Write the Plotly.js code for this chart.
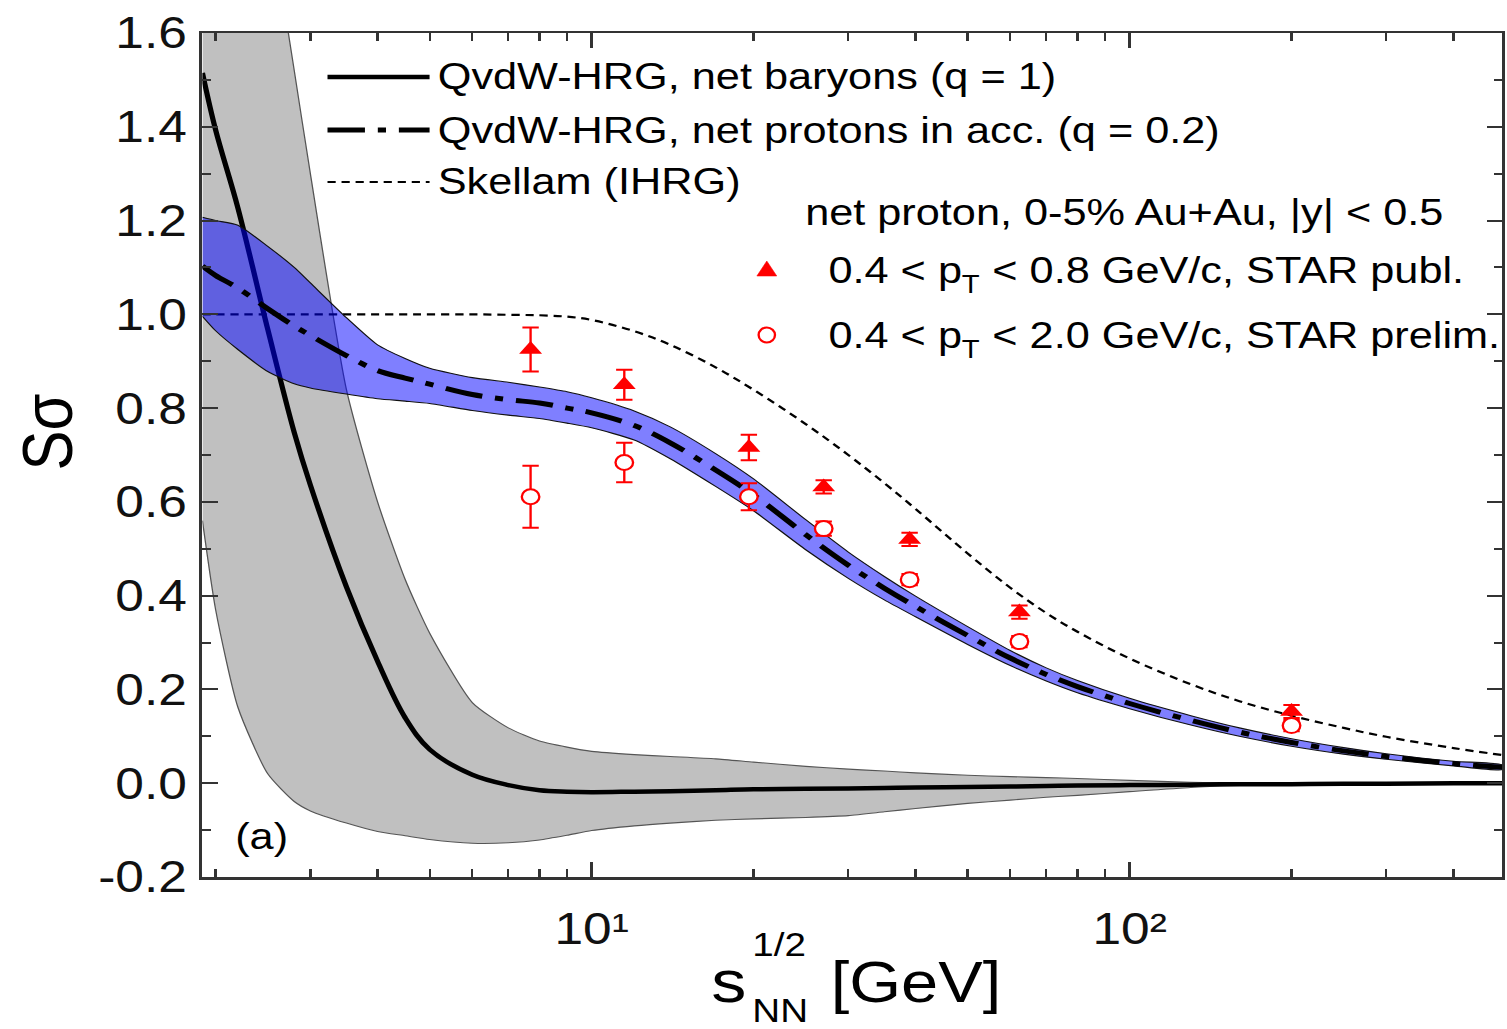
<!DOCTYPE html>
<html>
<head>
<meta charset="utf-8">
<script src="https://cdn.plot.ly/plotly-3.0.1.min.js"></script>
<style>
html,body{margin:0;padding:0;background:#fff;overflow:hidden;}
#wrap{width:1507px;height:1029px;overflow:hidden;}
#plot{width:1288px;height:1029px;transform:scaleX(1.1700311);transform-origin:0 0;}
</style>
</head>
<body>
<div id="wrap"><div id="plot"></div></div>
<script>
// ---------------- data ----------------
const energyGrid = [1.89, 2, 2.2, 2.5, 2.8, 3, 3.5, 4, 4.5, 5, 6, 7, 8, 9, 10, 12, 14, 17, 20, 25, 30, 35, 40, 50, 60, 70, 80, 100, 130, 160, 200, 250, 300, 400, 493];

// QvdW-HRG, net baryons (q = 1): central curve and uncertainty band
const netBaryons = [1.515, 1.393, 1.227, 0.968, 0.748, 0.636, 0.419, 0.26, 0.14, 0.072, 0.018, -0.004, -0.015, -0.018, -0.019, -0.018, -0.017, -0.015, -0.013, -0.012, -0.011, -0.010, -0.009, -0.008, -0.007, -0.006, -0.005, -0.004, -0.003, -0.002, -0.002, -0.001, -0.001, 0.0, 0.0];
const netBaryonsUpper = [2.77, 2.56, 2.29, 1.88, 1.52, 1.30, 0.84, 0.60, 0.435, 0.32, 0.172, 0.118, 0.09, 0.077, 0.068, 0.061, 0.057, 0.052, 0.045, 0.036, 0.030, 0.026, 0.022, 0.017, 0.014, 0.012, 0.010, 0.006, 0.002, 0.0, -0.001, -0.001, -0.001, -0.001, -0.001];
const netBaryonsLower = [0.56, 0.37, 0.162, 0.02, -0.039, -0.059, -0.085, -0.103, -0.112, -0.12, -0.128, -0.127, -0.121, -0.111, -0.101, -0.091, -0.085, -0.079, -0.076, -0.073, -0.069, -0.061, -0.054, -0.043, -0.036, -0.030, -0.026, -0.018, -0.009, -0.005, -0.002, -0.001, 0.0, 0.0, 0.0];

// QvdW-HRG, net protons in acceptance (q = 0.2)
const netProtons = [1.103, 1.083, 1.056, 1.012, 0.975, 0.955, 0.912, 0.88, 0.864, 0.851, 0.829, 0.818, 0.811, 0.80, 0.79, 0.763, 0.726, 0.668, 0.615, 0.53, 0.465, 0.416, 0.377, 0.315, 0.267, 0.232, 0.206, 0.17, 0.134, 0.109, 0.087, 0.069, 0.057, 0.042, 0.034];
const netProtonsUpper = [1.207, 1.20, 1.19, 1.145, 1.10, 1.067, 0.993, 0.935, 0.906, 0.885, 0.865, 0.855, 0.845, 0.835, 0.822, 0.794, 0.76, 0.703, 0.649, 0.562, 0.493, 0.441, 0.399, 0.334, 0.283, 0.246, 0.219, 0.181, 0.144, 0.118, 0.095, 0.076, 0.063, 0.047, 0.039];
const netProtonsLower = [0.996, 0.965, 0.925, 0.878, 0.852, 0.843, 0.83, 0.82, 0.815, 0.81, 0.795, 0.785, 0.778, 0.768, 0.758, 0.732, 0.692, 0.633, 0.581, 0.498, 0.437, 0.391, 0.355, 0.296, 0.251, 0.218, 0.193, 0.159, 0.124, 0.10, 0.079, 0.062, 0.051, 0.037, 0.029];

// Skellam (IHRG)
const skellam = [1.0, 1.0, 1.0, 1.0, 1.0, 1.0, 1.0, 1.0, 1.0, 1.0, 1.0, 0.999, 0.998, 0.995, 0.988, 0.964, 0.935, 0.887, 0.839, 0.766, 0.70, 0.64, 0.585, 0.49, 0.417, 0.363, 0.323, 0.266, 0.211, 0.175, 0.144, 0.118, 0.099, 0.075, 0.06];

// STAR data
const starEnergies = [7.7, 11.5, 19.6, 27, 39, 62.4, 200];
const starPubl = [0.925, 0.85, 0.716, 0.632, 0.52, 0.365, 0.153];
const starPublErr = [0.047, 0.032, 0.027, 0.014, 0.014, 0.014, 0.014];
const starPrelim = [0.611, 0.684, 0.611, 0.543, 0.434, 0.302, 0.123];
const starPrelimErr = [0.066, 0.042, 0.029, 0.015, 0.012, 0.012, 0.012];

// axes
const xTickVals = [10, 100];
const xTickText = ['10\u00B9', '10\u00B2'];
const xMinorVals = [2, 3, 4, 5, 6, 7, 8, 9, 20, 30, 40, 50, 60, 70, 80, 90, 200, 300, 400];
const yTickVals = [-0.2, 0, 0.2, 0.4, 0.6, 0.8, 1.0, 1.2, 1.4, 1.6];
const yTickText = ['-0.2', '0.0', '0.2', '0.4', '0.6', '0.8', '1.0', '1.2', '1.4', '1.6'];
const yMinorVals = [-0.1, 0.1, 0.3, 0.5, 0.7, 0.9, 1.1, 1.3, 1.5];

// legend texts
const legendLines = ['QvdW-HRG, net baryons (q = 1)', 'QvdW-HRG, net protons in acc. (q = 0.2)', 'Skellam (IHRG)'];
const legendHeader = 'net proton, 0-5% Au+Au, |y| < 0.5';
const legendMarkerHead = ['0.4 < p', '0.4 < p'];
const legendMarkerSub = ['T', 'T'];
const legendMarkerTail = ['< 0.8 GeV/c, STAR publ.', '< 2.0 GeV/c, STAR prelim.'];

// ---------------- layout helpers ----------------
const W = 1288, H = 1029, S = 1507 / 1288;
const M = {l: 203 / S, r: (1507 - 1502) / S, t: 33, b: 152};
const plotW = W - M.l - M.r, plotH = H - M.t - M.b;
const px = X => (X / S - M.l) / plotW;     // final-image x pixel -> paper
const py = Y => (H - M.b - Y) / plotH;       // final-image y pixel -> paper
const pxN = n => (n - M.l) / plotW;          // native pixel -> paper

const FONT = 'Liberation Sans, Arial, Helvetica, sans-serif';
const RED = '#ff0000';
const esc = s => s.replace(/&/g, '&amp;').replace(/</g, '&lt;').replace(/>/g, '&gt;');

const ctx = document.createElement('canvas').getContext('2d');
function textW(t, size) { ctx.font = size + 'px "Liberation Sans", Arial, sans-serif'; return ctx.measureText(t).width; }

const band = (up, lo) => ({
  x: energyGrid.concat(energyGrid.slice().reverse()),
  y: up.concat(lo.slice().reverse())
});

const greyBand = band(netBaryonsUpper, netBaryonsLower);
const blueBand = band(netProtonsUpper, netProtonsLower);

const traces = [
  {x: greyBand.x, y: greyBand.y, type: 'scatter', mode: 'lines', fill: 'toself',
   fillcolor: '#c0c0c0', line: {color: '#555', width: 1.1, shape: 'spline', smoothing: 0.6},
   hoverinfo: 'skip', showlegend: false},
  {x: energyGrid, y: netBaryons, type: 'scatter', mode: 'lines',
   line: {color: '#000', width: 4.5, shape: 'spline', smoothing: 1}, showlegend: false},
  {x: energyGrid, y: skellam, type: 'scatter', mode: 'lines',
   line: {color: '#000', width: 2.2, dash: '7px,5px', shape: 'spline', smoothing: 1}, showlegend: false},
  {x: blueBand.x, y: blueBand.y, type: 'scatter', mode: 'lines', fill: 'toself',
   fillcolor: 'rgba(0,0,255,0.5)', line: {color: '#111', width: 1.1, shape: 'spline', smoothing: 0.6},
   hoverinfo: 'skip', showlegend: false},
  {x: energyGrid, y: netProtons, type: 'scatter', mode: 'lines',
   line: {color: '#000', width: 5, dash: '32px,11px,7px,11px', shape: 'spline', smoothing: 1}, showlegend: false},
  {x: starEnergies, y: starPrelim, type: 'scatter', mode: 'markers',
   marker: {symbol: 'circle', size: 15, color: '#fff', line: {color: RED, width: 2}},
   error_y: {type: 'data', array: starPrelimErr, visible: true, color: RED, thickness: 2, width: 7},
   showlegend: false},
  {x: starEnergies, y: starPubl, type: 'scatter', mode: 'markers',
   marker: {symbol: 'triangle-up', size: 17, color: RED, line: {width: 0}},
   error_y: {type: 'data', array: starPublErr, visible: true, color: RED, thickness: 2, width: 7},
   showlegend: false}
];

// manual legend
const legendRowsY = [77, 130, 182];
const legendDash = ['solid', '32px,11px,7px,11px', '7px,5px'];
const legendWidth = [4.5, 5, 2.2];
const shapes = [];
const annotations = [];
const LF = 37, SUBF = 25;
legendLines.forEach((t, i) => {
  shapes.push({type: 'line', xref: 'paper', yref: 'paper', x0: px(328), x1: px(430),
    y0: py(legendRowsY[i]), y1: py(legendRowsY[i]),
    line: {color: '#000', width: legendWidth[i], dash: legendDash[i]}});
  annotations.push({xref: 'paper', yref: 'paper', x: px(436), y: py(legendRowsY[i]),
    xanchor: 'left', yanchor: 'middle', showarrow: false, text: esc(t),
    font: {family: FONT, size: LF, color: '#000'}});
});
annotations.push({xref: 'paper', yref: 'paper', x: px(803), y: py(212),
  xanchor: 'left', yanchor: 'middle', showarrow: false, text: esc(legendHeader),
  font: {family: FONT, size: LF, color: '#000'}});
const markerRowsY = [270, 335];
legendMarkerHead.forEach((h, i) => {
  const x0 = 826 / S;                       // native px
  const w1 = textW(h, LF);
  const w2 = textW(legendMarkerSub[i], SUBF);
  const wsp = textW(' ', LF);
  annotations.push({xref: 'paper', yref: 'paper', x: pxN(x0), y: py(markerRowsY[i]),
    xanchor: 'left', yanchor: 'middle', showarrow: false, text: esc(h),
    font: {family: FONT, size: LF, color: '#000'}});
  annotations.push({xref: 'paper', yref: 'paper', x: pxN(x0 + w1), y: py(markerRowsY[i] + 14),
    xanchor: 'left', yanchor: 'middle', showarrow: false, text: esc(legendMarkerSub[i]),
    font: {family: FONT, size: SUBF, color: '#000'}});
  annotations.push({xref: 'paper', yref: 'paper', x: pxN(x0 + w1 + w2 + wsp), y: py(markerRowsY[i]),
    xanchor: 'left', yanchor: 'middle', showarrow: false, text: esc(legendMarkerTail[i]),
    font: {family: FONT, size: LF, color: '#000'}});
});
shapes.push({type: 'path', xref: 'paper', yref: 'paper', xsizemode: 'pixel', ysizemode: 'pixel',
  xanchor: px(767), yanchor: py(270), path: 'M -8.5,-6 L 8.5,-6 L 0,9 Z',
  fillcolor: RED, line: {color: RED, width: 0.5}});
shapes.push({type: 'circle', xref: 'paper', yref: 'paper', xsizemode: 'pixel', ysizemode: 'pixel',
  xanchor: px(767), yanchor: py(335), x0: -7, x1: 7, y0: -7.5, y1: 7.5,
  fillcolor: '#fff', line: {color: RED, width: 2}});

// panel label
annotations.push({xref: 'paper', yref: 'paper', x: px(262), y: py(836), xanchor: 'center', yanchor: 'middle',
  showarrow: false, text: '(a)', font: {family: FONT, size: 37, color: '#000'}});

// axis titles
annotations.push({xref: 'paper', yref: 'paper', x: px(48), y: py(432), xanchor: 'center', yanchor: 'middle',
  showarrow: false, text: 'Sσ', textangle: -90, font: {family: FONT, size: 60, color: '#000'}});
annotations.push({xref: 'paper', yref: 'paper', x: px(749), y: py(981), xanchor: 'right', yanchor: 'middle',
  showarrow: false, text: 's', font: {family: FONT, size: 60, color: '#000'}});
annotations.push({xref: 'paper', yref: 'paper', x: px(750), y: py(944), xanchor: 'left', yanchor: 'middle',
  showarrow: false, text: '1/2', font: {family: FONT, size: 33, color: '#000'}});
annotations.push({xref: 'paper', yref: 'paper', x: px(750), y: py(1010), xanchor: 'left', yanchor: 'middle',
  showarrow: false, text: 'NN', font: {family: FONT, size: 33, color: '#000'}});
annotations.push({xref: 'paper', yref: 'paper', x: px(829), y: py(982), xanchor: 'left', yanchor: 'middle',
  showarrow: false, text: '[GeV]', font: {family: FONT, size: 57, color: '#000'}});

const axisCommon = {
  showgrid: false, zeroline: false, showline: true, linecolor: '#333', linewidth: 2.5,
  mirror: 'ticks', ticks: 'inside', tickcolor: '#333', tickwidth: 2,
  tickfont: {family: FONT, size: 44, color: '#111'}
};

const layout = {
  width: W, height: H,
  margin: M,
  paper_bgcolor: '#fff', plot_bgcolor: '#fff',
  showlegend: false,
  font: {family: FONT},
  xaxis: Object.assign({}, axisCommon, {
    type: 'log', range: [Math.log10(1.89), Math.log10(493)],
    tickmode: 'array', tickvals: xTickVals, ticktext: xTickText, ticklen: 15,
    ticklabelstandoff: 12,
    minor: {tickmode: 'array', tickvals: xMinorVals, ticks: 'inside', ticklen: 8, tickwidth: 2, tickcolor: '#333', showgrid: false}
  }),
  yaxis: Object.assign({}, axisCommon, {
    range: [-0.2, 1.6], tickmode: 'array', tickvals: yTickVals, ticktext: yTickText, ticklen: 13,
    ticklabelstandoff: 2,
    minor: {tickmode: 'array', tickvals: yMinorVals, ticks: 'inside', ticklen: 7, tickwidth: 2, tickcolor: '#333', showgrid: false}
  }),
  shapes: shapes,
  annotations: annotations
};

Plotly.newPlot('plot', traces, layout, {displayModeBar: false, staticPlot: true});
</script>
</body>
</html>
